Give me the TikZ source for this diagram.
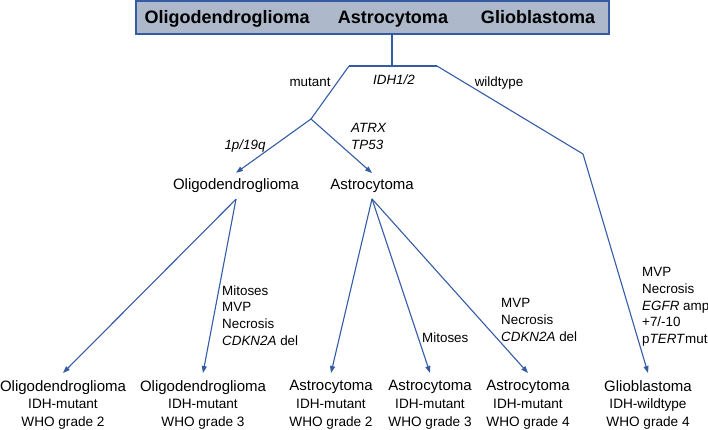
\documentclass[tikz,border=0pt]{standalone}
\usepackage{fontspec}
\setmainfont{Liberation Sans}
\usetikzlibrary{calc, arrows.meta}
\definecolor{treeblue}{RGB}{52,92,165}
\definecolor{boxfill}{RGB}{173,185,202}

\begin{document}
\begin{tikzpicture}[x=1pt, y=-1pt]
			\tikzset{branch/.style={draw=treeblue, line width=1.1pt}}
			\tikzset{arr/.style={branch, -{Triangle[length=7pt, width=5pt]}}}
			\tikzset{lbl/.style={inner sep=0pt, font=\fontsize{13.4}{16.7}\selectfont}}
			\tikzset{lblblock/.style={lbl, align=left, anchor=north west}}
			\tikzset{midnode/.style={inner xsep=0pt, inner ysep=6pt, font=\fontsize{15}{18}\selectfont}}
			\tikzset{leaf/.style={inner xsep=0pt, inner ysep=7pt, anchor=north, align=center, font=\fontsize{13.6}{17.8}\selectfont}}
			\tikzset{topword/.style={inner sep=0pt, anchor=base, font=\fontsize{18}{20}\selectfont\bfseries}}
			\newcommand{\leafname}[1]{{\fontsize{15}{17.8}\selectfont #1}}
			\useasboundingbox (0,0) rectangle (708,430);
			
			% header box
			\node[branch, fill=boxfill, minimum width=473pt, minimum height=33pt, inner sep=0pt] (header) at (372.5,17.5) {};
			\node[topword] (holigo) at (227,23.5) {Oligodendroglioma};
			\node[topword] (hastro) at (393,23.5) {Astrocytoma};
			\node[topword] (hglio) at (538,23.5) {Glioblastoma};
			
			% IDH split
			\coordinate (idh) at (392,66);
			\coordinate (idhmut) at (349,66);
			\coordinate (idhwt) at (437,66);
			\coordinate (mutsplit) at (311,119);
			\coordinate (wtbend) at (583,154);
			
			\node[midnode] (oligo) at (236,186) {Oligodendroglioma};
			\node[midnode] (astro) at (372,186) {Astrocytoma};
			
			\node[leaf] (o2) at (63,373) {\leafname{Oligodendroglioma}\\IDH-mutant\\WHO grade 2};
			\node[leaf] (o3) at (203,373) {\leafname{Oligodendroglioma}\\IDH-mutant\\WHO grade 3};
			\node[leaf] (a2) at (331,373) {\leafname{Astrocytoma}\\IDH-mutant\\WHO grade 2};
			\node[leaf] (a3) at (430,373) {\leafname{Astrocytoma}\\IDH-mutant\\WHO grade 3};
			\node[leaf] (a4) at (528,373) {\leafname{Astrocytoma}\\IDH-mutant\\WHO grade 4};
			\node[leaf] (gbm) at (648,373) {\leafname{Glioblastoma}\\IDH-wildtype\\WHO grade 4};
			
			\draw[branch] (header.south -| idh) -- (idh);
			\draw[branch] (idhmut) -- (idhwt);
			\draw[branch] (idhmut) -- (mutsplit);
			\draw[arr] (mutsplit) -- (oligo.north);
			\draw[arr] (mutsplit) -- (astro.north);
			\draw[arr] (idhwt) -- (wtbend) -- (gbm.north);
			\draw[arr] (oligo.south) -- (o2.north);
			\draw[arr] (oligo.south) -- (o3.north);
			\draw[arr] (astro.south) -- (a2.north);
			\draw[arr] (astro.south) -- (a3.north);
			\draw[arr] (astro.south) -- (a4.north);
			
			% branch labels
			\node[lbl, anchor=base] (lmut) at (310,87) {mutant};
			\node[lbl, anchor=base] (lidh) at (394,84.5) {\textit{IDH1/2}};
			\node[lbl, anchor=base] (lwt) at (499,87) {wildtype};
			\node[lbl, anchor=base] (lcodel) at (245,150) {\textit{1p/19q}};
			\node[lblblock] (latrx) at (351,123.2) {\textit{ATRX}\\\textit{TP53}};
			\node[lblblock] (lo3) at (222,285.2) {Mitoses\\MVP\\Necrosis\\\textit{CDKN2A} del};
			\node[lbl, anchor=base west] (la3) at (422,342.5) {Mitoses};
			\node[lblblock] (la4) at (501,298.2) {MVP\\Necrosis\\\textit{CDKN2A} del};
			\node[lblblock] (lgbm) at (642,267.2) {MVP\\Necrosis\\\textit{EGFR} amp\\+7/-10\\p\textit{TERT}mut};
\end{tikzpicture}
\end{document}
